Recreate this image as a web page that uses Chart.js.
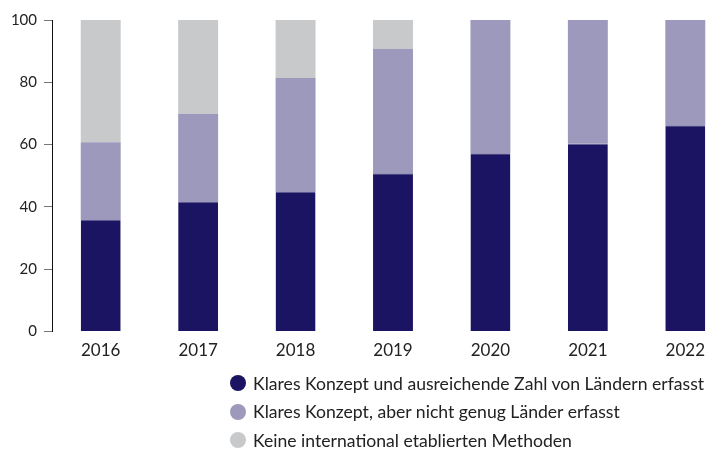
<!DOCTYPE html>
<html>
<head>
<meta charset="utf-8">
<script src="https://cdn.jsdelivr.net/npm/chart.js@4"></script>
<style>
  html, body { margin: 0; padding: 0; background: #fff; width: 725px; height: 450px; overflow: hidden; }
  #wrap { position: relative; width: 725px; height: 450px; overflow: hidden; }
  canvas { position: absolute; left: 0; top: 0; }
  #legend { position: absolute; left: 230px; top: 369px; font-family: Lato, sans-serif; font-size: 17.6px; color: #222; }
  .item { display: flex; align-items: center; height: 28.5px; white-space: nowrap; }
  .dot { width: 16px; height: 16px; border-radius: 50%; margin-right: 7px; flex: none; }
</style>
</head>
<body>
<div id="wrap">
  <canvas id="c" width="735" height="370" style="width:735px;height:370px"></canvas>
  <div id="legend"></div>
</div>
<script>
const years = ["2016", "2017", "2018", "2019", "2020", "2021", "2022"];
const seriesNames = [
  "Klares Konzept und ausreichende Zahl von Ländern erfasst",
  "Klares Konzept, aber nicht genug Länder erfasst",
  "Keine international etablierten Methoden"
];
const klaresAusreichend = [35.8, 41.6, 44.8, 50.8, 57.2, 60.4, 66.2];
const klaresNichtGenug = [25.0, 28.3, 36.6, 39.9, 42.8, 39.6, 33.8];
const keineMethoden = [39.2, 30.1, 18.6, 9.3, 0, 0, 0];
const yTicks = [0, 20, 40, 60, 80, 100];

const colors = ["#1b1462", "#9d99bc", "#c8c9cb"];
const values = [klaresAusreichend, klaresNichtGenug, keineMethoden];

const datasets = values.map((v, i) => ({
  label: seriesNames[i],
  data: v,
  backgroundColor: colors[i],
  borderColor: i === 0 ? "#5c5890" : colors[i],
  borderWidth: i === 0 ? { top: 1, left: 0, right: 0, bottom: 0 } : 0,
  borderSkipped: false,
  categoryPercentage: 1,
  barPercentage: 0.41
}));

new Chart(document.getElementById("c"), {
  type: "bar",
  data: { labels: years, datasets },
  options: {
    responsive: false,
    animation: false,
    layout: { padding: { top: 20, right: 1, left: 0, bottom: 0 } },
    plugins: { legend: { display: false }, tooltip: { enabled: false } },
    scales: {
      x: {
        stacked: true,
        grid: { display: false, drawTicks: false },
        border: { display: false },
        ticks: { color: "#222", font: { family: "Lato", size: 17 }, padding: 9 }
      },
      y: {
        stacked: true,
        min: 0,
        max: 100,
        afterBuildTicks: (s) => { s.ticks = yTicks.map(v => ({ value: v })); },
        afterFit: (s) => { s.width = 52; },
        grid: { drawOnChartArea: false, drawTicks: true, tickLength: 8, color: "#777", lineWidth: 1 },
        border: { display: true, color: "#111", width: 1 },
        ticks: { color: "#222", font: { family: "Lato", size: 15 }, padding: 7 }
      }
    }
  }
});

const leg = document.getElementById("legend");
seriesNames.forEach((n, i) => {
  const d = document.createElement("div");
  d.className = "item";
  const dot = document.createElement("span");
  dot.className = "dot";
  dot.style.background = colors[i];
  const t = document.createElement("span");
  t.textContent = n;
  d.appendChild(dot);
  d.appendChild(t);
  leg.appendChild(d);
});
</script>
</body>
</html>
